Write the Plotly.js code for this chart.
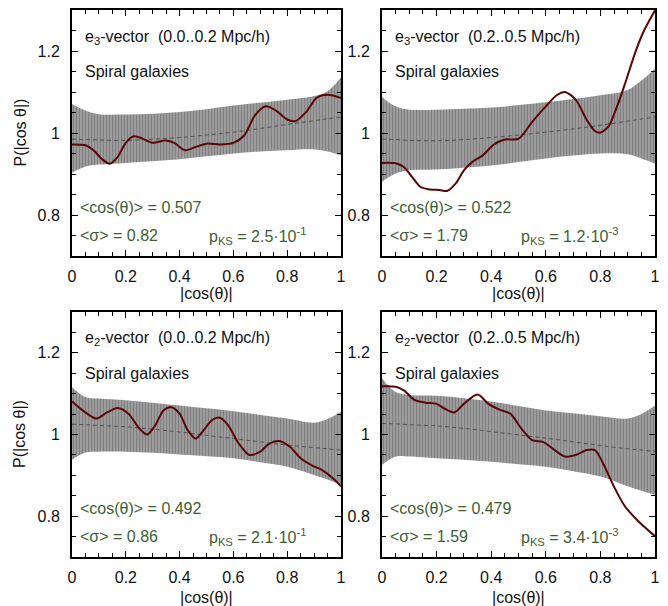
<!DOCTYPE html>
<html>
<head>
<meta charset="utf-8">
<script src="https://cdn.plot.ly/plotly-3.0.1.min.js"></script>
<style>html,body{margin:0;padding:0;background:#fff;}#plot{width:668px;height:606px;}</style>
</head>
<body>
<div id="plot"></div>
<script>
// ---- band grid (|cos theta|) ----
var bandX = [0, 0.05, 0.1, 0.2, 0.3, 0.4, 0.5, 0.6, 0.7, 0.8, 0.9, 0.95, 1.0];

// Panel 1: e3-vector (0.0..0.2 Mpc/h)
var p1Upper = [1.071, 1.055, 1.046, 1.045, 1.047, 1.051, 1.058, 1.067, 1.074, 1.081, 1.090, 1.102, 1.136];
var p1Lower = [0.903, 0.918, 0.923, 0.927, 0.931, 0.936, 0.943, 0.950, 0.955, 0.958, 0.960, 0.955, 0.946];
var p1Mean  = [0.985, 0.984, 0.983, 0.982, 0.985, 0.989, 0.995, 1.002, 1.011, 1.021, 1.030, 1.035, 1.039];
var p1CurveX = [0, 0.05, 0.08, 0.11, 0.14, 0.17, 0.20, 0.23, 0.26, 0.30, 0.35, 0.38, 0.42, 0.46, 0.50, 0.55, 0.60, 0.64, 0.68, 0.72, 0.76, 0.80, 0.83, 0.87, 0.91, 0.95, 1.0];
var p1CurveY = [0.972, 0.970, 0.958, 0.937, 0.925, 0.942, 0.976, 0.992, 0.987, 0.976, 0.982, 0.976, 0.958, 0.966, 0.974, 0.972, 0.976, 0.994, 1.043, 1.065, 1.054, 1.033, 1.029, 1.051, 1.086, 1.093, 1.085];

// Panel 2: e3-vector (0.2..0.5 Mpc/h)
var p2Upper = [1.088, 1.065, 1.057, 1.057, 1.059, 1.062, 1.068, 1.075, 1.083, 1.092, 1.105, 1.128, 1.157];
var p2Lower = [0.881, 0.901, 0.909, 0.911, 0.915, 0.921, 0.929, 0.938, 0.945, 0.950, 0.948, 0.938, 0.925];
var p2Mean  = [0.985, 0.984, 0.982, 0.981, 0.984, 0.989, 0.995, 1.002, 1.010, 1.019, 1.029, 1.034, 1.039];
var p2CurveX = [0, 0.05, 0.08, 0.11, 0.14, 0.17, 0.21, 0.24, 0.27, 0.30, 0.33, 0.37, 0.41, 0.45, 0.50, 0.55, 0.60, 0.64, 0.67, 0.71, 0.75, 0.78, 0.80, 0.83, 0.86, 0.89, 0.93, 0.96, 1.0];
var p2CurveY = [0.927, 0.926, 0.917, 0.893, 0.869, 0.863, 0.861, 0.859, 0.877, 0.909, 0.929, 0.946, 0.972, 0.984, 0.986, 1.027, 1.065, 1.092, 1.100, 1.081, 1.032, 1.005, 1.001, 1.016, 1.063, 1.120, 1.201, 1.250, 1.299];

// Panel 3: e2-vector (0.0..0.2 Mpc/h)
var p3Upper = [1.116, 1.092, 1.088, 1.084, 1.078, 1.071, 1.064, 1.057, 1.048, 1.039, 1.029, 1.038, 1.055];
var p3Lower = [0.938, 0.956, 0.958, 0.958, 0.955, 0.951, 0.947, 0.942, 0.932, 0.921, 0.901, 0.890, 0.877];
var p3Mean  = [1.025, 1.024, 1.022, 1.019, 1.013, 1.006, 0.998, 0.990, 0.982, 0.974, 0.968, 0.965, 0.962];
var p3CurveX = [0, 0.04, 0.09, 0.13, 0.17, 0.21, 0.25, 0.28, 0.31, 0.34, 0.37, 0.40, 0.43, 0.46, 0.49, 0.52, 0.55, 0.58, 0.62, 0.66, 0.70, 0.73, 0.77, 0.81, 0.85, 0.89, 0.93, 0.97, 1.0];
var p3CurveY = [1.081, 1.059, 1.039, 1.054, 1.065, 1.051, 1.015, 1.000, 1.023, 1.059, 1.067, 1.051, 1.011, 0.990, 1.011, 1.035, 1.041, 1.023, 0.978, 0.950, 0.958, 0.976, 0.984, 0.970, 0.942, 0.925, 0.913, 0.893, 0.873];

// Panel 4: e2-vector (0.2..0.5 Mpc/h)
var p4Upper = [1.138, 1.104, 1.097, 1.095, 1.089, 1.081, 1.070, 1.059, 1.052, 1.045, 1.039, 1.050, 1.071];
var p4Lower = [0.925, 0.946, 0.946, 0.942, 0.938, 0.933, 0.927, 0.921, 0.910, 0.897, 0.873, 0.862, 0.852];
var p4Mean  = [1.027, 1.026, 1.024, 1.021, 1.015, 1.007, 0.999, 0.991, 0.982, 0.973, 0.965, 0.962, 0.959];
var p4CurveX = [0, 0.05, 0.08, 0.12, 0.16, 0.20, 0.23, 0.265, 0.30, 0.35, 0.39, 0.43, 0.47, 0.51, 0.55, 0.59, 0.63, 0.67, 0.71, 0.75, 0.78, 0.81, 0.85, 0.89, 0.94, 1.0];
var p4CurveY = [1.118, 1.117, 1.108, 1.084, 1.078, 1.075, 1.063, 1.054, 1.075, 1.098, 1.075, 1.061, 1.051, 1.015, 0.986, 0.982, 0.963, 0.946, 0.950, 0.962, 0.962, 0.929, 0.872, 0.824, 0.787, 0.751];

// ---- text ----
var panelTitles = ["e<sub>3</sub>-vector\u00a0\u00a0(0.0..0.2 Mpc/h)", "e<sub>3</sub>-vector\u00a0\u00a0(0.2..0.5 Mpc/h)",
                   "e<sub>2</sub>-vector\u00a0\u00a0(0.0..0.2 Mpc/h)", "e<sub>2</sub>-vector\u00a0\u00a0(0.2..0.5 Mpc/h)"];
var sampleLabel = "Spiral galaxies";
var meanCos = ["0.507", "0.522", "0.492", "0.479"];
var meanSigma = ["0.82", "1.79", "0.86", "1.59"];
var pKS = ["2.5\u00b710<sup>-1</sup>", "1.2\u00b710<sup>-3</sup>", "2.1\u00b710<sup>-1</sup>", "3.4\u00b710<sup>-3</sup>"];
var xTitle = "|cos(\u03b8)|";
var yTitle = "P(|cos \u03b8|)";

var panels = [
  {up: p1Upper, lo: p1Lower, mean: p1Mean, cx: p1CurveX, cy: p1CurveY},
  {up: p2Upper, lo: p2Lower, mean: p2Mean, cx: p2CurveX, cy: p2CurveY},
  {up: p3Upper, lo: p3Lower, mean: p3Mean, cx: p3CurveX, cy: p3CurveY},
  {up: p4Upper, lo: p4Lower, mean: p4Mean, cx: p4CurveX, cy: p4CurveY}
];

var W = 668, H = 606;
var boxes = [
  {l: 72, r: 341, t: 10, b: 256, xt: 293},
  {l: 382, r: 655, t: 10, b: 256, xt: 293},
  {l: 72, r: 341, t: 312, b: 557, xt: 597},
  {l: 382, r: 655, t: 312, b: 557, xt: 597}
];

var FONT = "Liberation Sans, Arial, Helvetica, sans-serif";
var FS = 16;
var GREEN = "#3d5e35";
var traces = [];
var layout = {
  width: W, height: H,
  margin: {l: 0, r: 0, t: 0, b: 0},
  paper_bgcolor: "#fff", plot_bgcolor: "#fff",
  showlegend: false,
  font: {family: FONT, size: FS, color: "#111"},
  annotations: []
};

panels.forEach(function (p, i) {
  var n = i + 1;
  var xa = n === 1 ? "x" : "x" + n;
  var ya = n === 1 ? "y" : "y" + n;
  traces.push({x: bandX, y: p.lo, xaxis: xa, yaxis: ya, mode: "lines", line: {width: 0, color: "rgba(0,0,0,0)", shape: "spline"}, hoverinfo: "skip", type: "scatter"});
  traces.push({x: bandX, y: p.up, xaxis: xa, yaxis: ya, mode: "lines", line: {width: 0, color: "rgba(0,0,0,0)", shape: "spline"}, fill: "tonexty",
    fillcolor: "#999999",
    fillpattern: {shape: "|", size: 3, solidity: 0.45, fgcolor: "#808080", bgcolor: "#a2a2a2"},
    hoverinfo: "skip", type: "scatter"});
  traces.push({x: bandX, y: p.mean, xaxis: xa, yaxis: ya, mode: "lines", line: {width: 1, color: "#505050", dash: "4px,3px", shape: "spline"}, type: "scatter"});
  traces.push({x: p.cx, y: p.cy, xaxis: xa, yaxis: ya, mode: "lines", line: {width: 2, color: "#5a0606", shape: "spline", smoothing: 0.8}, type: "scatter"});

  var b = boxes[i];
  var axCommon = {
    showline: true, linecolor: "#000", linewidth: 2, mirror: "allticks",
    ticks: "inside", ticklen: 6, tickwidth: 1, tickcolor: "#000",
    showgrid: false, zeroline: false,
    tickfont: {family: FONT, size: FS, color: "#111"}
  };
  layout["xaxis" + (n === 1 ? "" : n)] = Object.assign({}, axCommon, {
    domain: [b.l / W, b.r / W], anchor: ya, range: [0, 1], dtick: 0.2, tick0: 0,
    minor: {dtick: 0.05, ticklen: 4, tickcolor: "#000", ticks: "inside"},
    ticklabelstandoff: 5
  });
  layout["yaxis" + (n === 1 ? "" : n)] = Object.assign({}, axCommon, {
    domain: [1 - b.b / H, 1 - b.t / H], anchor: xa, range: [0.7, 1.3], dtick: 0.2, tick0: 0,
    minor: {dtick: 0.05, ticklen: 4, tickcolor: "#000", ticks: "inside"},
    ticklabelstandoff: 7
  });

  // axis titles
  layout.annotations.push({xref: "paper", yref: "paper", x: (b.l + b.r) / 2 / W, y: 1 - b.xt / H, xanchor: "center", yanchor: "middle", showarrow: false, text: xTitle, font: {family: FONT, size: FS, color: "#111"}});
  if (n === 1 || n === 3) {
    layout.annotations.push({xref: "paper", yref: "paper", x: 19.5 / W, y: 1 - (b.t + b.b) / 2 / H, xanchor: "center", yanchor: "middle", textangle: -90, showarrow: false, text: yTitle, font: {family: FONT, size: FS, color: "#111"}});
  }

  var xr = xa + " domain";
  layout.annotations.push({xref: xr, yref: ya, x: 0.04, y: 1.234, xanchor: "left", yanchor: "middle", showarrow: false, text: panelTitles[i], font: {family: FONT, size: FS, color: "#111"}});
  layout.annotations.push({xref: xr, yref: ya, x: 0.04, y: 1.149, xanchor: "left", yanchor: "middle", showarrow: false, text: sampleLabel, font: {family: FONT, size: FS, color: "#111"}});
  layout.annotations.push({xref: xr, yref: ya, x: 0.022, y: 0.818, xanchor: "left", yanchor: "middle", showarrow: false, text: "&lt;cos(\u03b8)&gt; = " + meanCos[i], font: {family: FONT, size: FS, color: GREEN}});
  layout.annotations.push({xref: xr, yref: ya, x: 0.022, y: 0.75, xanchor: "left", yanchor: "middle", showarrow: false, text: "&lt;\u03c3&gt; = " + meanSigma[i], font: {family: FONT, size: FS, color: GREEN}});
  layout.annotations.push({xref: xr, yref: ya, x: 0.5, y: 0.75, xanchor: "left", yanchor: "middle", showarrow: false, text: "p<sub>KS</sub> = " + pKS[i], font: {family: FONT, size: FS, color: GREEN}});
});

Plotly.newPlot("plot", traces, layout, {staticPlot: true, displayModeBar: false});
</script>
</body>
</html>
